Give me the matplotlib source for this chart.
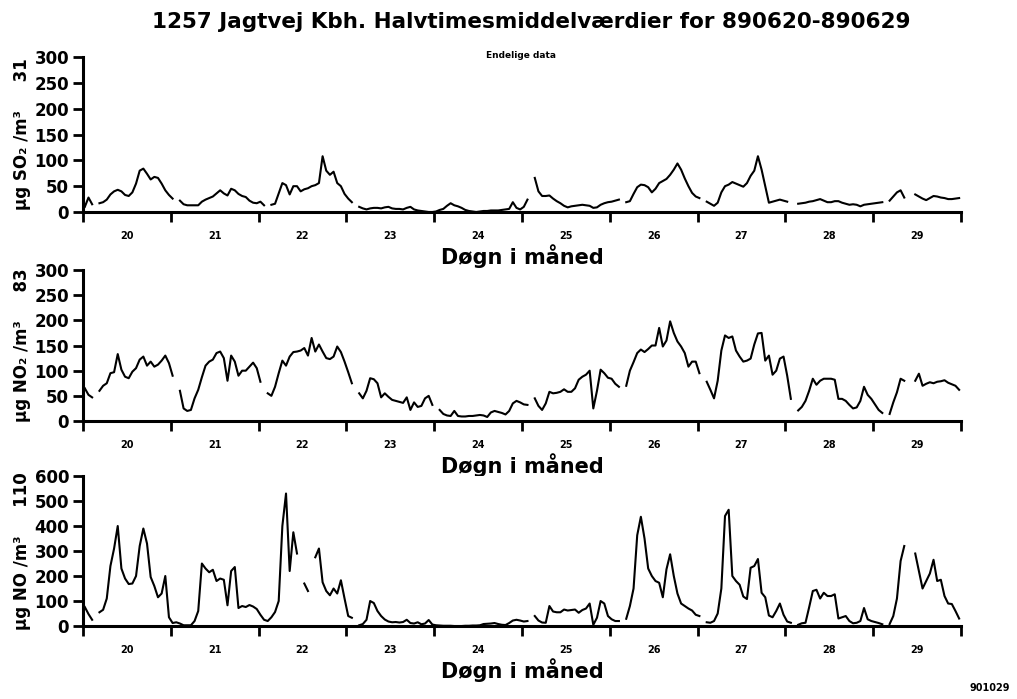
import numpy as np
import matplotlib
matplotlib.use("Agg")
import matplotlib.pyplot as plt

# Half-hour station data, resampled to hourly values (None = missing)
DAYS = list(range(20, 30))

so2 = [
    10, 28, 15, None, 17, 19, 24, 34, 40, 43, 40, 33, 31, 38, 55, 80, 84, 74, 63, 68, 66, 55, 42, 33,
    26, None, 22, 15, 13, 13, 13, 13, 20, 24, 27, 30, 36, 42, 36, 32, 45, 42, 35, 31, 29, 22, 18, 17,
    20, 13, None, 14, 16, 36, 56, 52, 34, 50, 50, 40, 44, 46, 50, 52, 56, 108, 80, 72, 78, 56, 50, 35,
    26, 19, None, 10, 7, 5, 7, 8, 8, 7, 9, 10, 7, 6, 6, 5, 8, 10, 5, 3, 2, 1, 0, 0,
    1, 4, 6, 12, 17, 13, 11, 8, 4, 2, 1, 0, 1, 2, 2, 3, 3, 3, 4, 5, 6, 19, 8, 5,
    10, 24, None, 66, 40, 31, 31, 32, 26, 21, 17, 12, 9, 11, 12, 13, 14, 13, 12, 8, 9, 14, 17, 19,
    20, 22, 24, None, 19, 21, 35, 48, 53, 52, 48, 38, 45, 56, 60, 64, 72, 82, 94, 82, 65, 50, 37, 30,
    27, None, 20, 16, 12, 18, 38, 50, 53, 58, 55, 52, 49, 56, 70, 80, 108, 82, 50, 18, 20, 22, 24, 22,
    20, None, None, 16, 17, 18, 20, 21, 23, 25, 22, 19, 19, 21, 21, 18, 16, 14, 15, 14, 11, 14, 15, 16,
    17, 18, 19, None, 22, 30, 38, 42, 28, None, None, 34, 30, 26, 23, 27, 31, 30, 28, 27, 25, 25, 26, 27,
]

no2 = [
    65, 52, 47, None, 60, 70, 75, 95, 97, 133, 102, 88, 85, 98, 105, 122, 128, 110, 118, 108, 112, 120, 130, 115,
    90, None, 60, 25, 20, 22, 45, 62, 87, 110, 118, 122, 135, 138, 125, 80, 130, 118, 90, 100, 100, 108, 116, 105,
    78, None, 55, 50, 68, 95, 120, 110, 128, 137, 138, 140, 145, 130, 165, 138, 152, 138, 125, 123, 128, 148, 137, 118,
    97, 75, None, 55, 45, 60, 85, 83, 75, 47, 55, 48, 42, 40, 38, 36, 47, 22, 37, 28, 30, 45, 50, 32,
    None, 22, 14, 11, 10, 20, 10, 9, 9, 10, 10, 11, 12, 11, 8, 17, 20, 18, 16, 13, 20, 35, 40, 37,
    33, 32, None, 45, 30, 22, 35, 58, 55, 56, 58, 63, 58, 58, 65, 82, 88, 92, 100, 25, 60, 102, 95, 86,
    84, 74, 68, None, 70, 100, 117, 135, 142, 137, 143, 150, 150, 185, 148, 160, 198, 175, 158, 148, 135, 108, 118, 118,
    95, None, 78, 62, 45, 80, 140, 170, 165, 168, 140, 128, 118, 120, 124, 152, 174, 175, 120, 130, 92, 100, 124, 128,
    90, 44, None, 21, 28, 40, 60, 84, 72, 80, 84, 84, 84, 82, 44, 44, 40, 32, 25, 27, 40, 68, 52, 44,
    33, 22, 16, None, 14, 37, 57, 84, 80, None, None, 80, 94, 70, 74, 77, 75, 78, 79, 81, 76, 73, 70, 62,
]

no = [
    76, 48, 25, None, 55, 65, 110, 240, 310, 400, 230, 190, 168, 170, 200, 320, 390, 330, 196, 160, 115, 130, 200, 35,
    12, 15, 10, 3, 3, 3, 20, 60, 250, 230, 215, 225, 180, 190, 185, 83, 220, 236, 72, 80, 76, 84, 78, 68,
    45, 25, 20, 35, 56, 100, 400, 530, 220, 375, 290, None, 170, 140, None, 275, 310, 175, 140, 123, 150, 130, 183, 110,
    40, 33, None, 3, 8, 25, 100, 92, 60, 40, 26, 18, 15, 16, 14, 16, 25, 12, 10, 15, 7, 10, 24, 6,
    3, 2, 1, 1, 1, 0, 0, 0, 1, 1, 2, 2, 3, 8, 9, 10, 12, 8, 5, 4, 12, 22, 25, 22,
    18, 20, None, 40, 22, 14, 13, 80, 58, 55, 55, 66, 62, 64, 66, 53, 64, 70, 90, 5, 33, 100, 90, 40,
    27, 20, 20, None, 29, 80, 150, 363, 437, 350, 230, 200, 180, 173, 115, 227, 287, 200, 130, 90, 80, 70, 62, 45,
    40, None, 15, 13, 20, 50, 150, 440, 465, 200, 180, 165, 118, 108, 233, 240, 268, 133, 115, 42, 35, 60, 90, 45,
    18, 13, None, 5, 11, 13, 75, 140, 145, 110, 133, 120, 120, 127, 30, 35, 40, 20, 11, 13, 20, 72, 27, 20,
    16, 12, 7, None, 8, 40, 110, 260, 320, None, None, 290, 220, 150, 180, 210, 265, 180, 185, 120, 90, 88, 60, 30,
]

# series, y max, y step, axis label, axes rect
panels = [
    (so2, 300, 50, "μg SO₂ /m³     31", [0.0816, 0.6967, 0.8633, 0.2217]),
    (no2, 300, 50, "μg NO₂ /m³     83", [0.0816, 0.3977, 0.8633, 0.2160]),
    (no, 600, 100, "μg NO /m³     110", [0.0816, 0.1044, 0.8633, 0.2146]),
]

fig = plt.figure(figsize=(10.17, 6.99), dpi=100)

for values, ymax, ystep, ylabel, rect in panels:
    ax = fig.add_axes(rect)
    y = np.array([np.nan if v is None else v for v in values], dtype=float)
    t = (np.arange(len(y)) + 0.5) / 24.0
    ax.plot(t, y, color="black", lw=1.5)

    ax.set_xlim(0, len(DAYS))
    ax.set_ylim(0, ymax)
    for side in ("top", "right"):
        ax.spines[side].set_visible(False)
    for side in ("left", "bottom"):
        ax.spines[side].set_linewidth(2.2)

    ax.set_yticks(np.arange(0, ymax + 1, ystep))
    ax.tick_params(axis="y", direction="out", length=7, width=2, pad=3, labelsize=12)
    for lbl in ax.get_yticklabels():
        lbl.set_fontweight("bold")

    # day boundaries as ticks, day numbers centred between them
    ax.set_xticks(range(len(DAYS) + 1))
    ax.set_xticklabels([])
    ax.set_xticks(np.arange(len(DAYS)) + 0.5, minor=True)
    ax.set_xticklabels([str(d) for d in DAYS], minor=True)
    ax.tick_params(axis="x", which="major", direction="out", length=7, width=2)
    ax.tick_params(axis="x", which="minor", length=0, pad=14, labelsize=7)
    for lbl in ax.get_xticklabels(minor=True):
        lbl.set_fontweight("bold")

    ax.set_xlabel("Døgn i måned", fontsize=15, fontweight="bold", labelpad=2)

    fig.text(22 / 1017, rect[1] + rect[3] / 2, ylabel, rotation=90,
             ha="center", va="center", fontsize=12, fontweight="bold")

fig.text(0.522, 1 - 22 / 699, "1257 Jagtvej Kbh. Halvtimesmiddelværdier for 890620-890629",
         ha="center", va="center", fontsize=15.5, fontweight="bold")
fig.text(0.512, 1 - 55 / 699, "Endelige data", ha="center", va="center",
         fontsize=6.5, fontweight="bold")
fig.text(990 / 1017, 1 - 688 / 699, "901029", ha="center", va="center",
         fontsize=7, fontweight="bold")

fig.savefig("out.png", dpi=100)
